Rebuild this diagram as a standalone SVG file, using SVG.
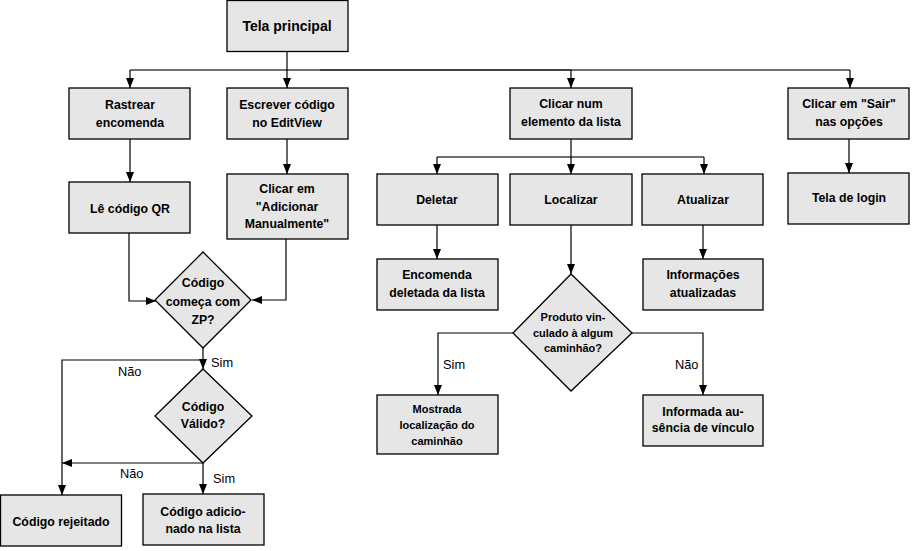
<svg xmlns="http://www.w3.org/2000/svg" width="913" height="551" viewBox="0 0 913 551">
<defs>
<marker id="ah" markerUnits="userSpaceOnUse" markerWidth="10" markerHeight="10" viewBox="0 0 10 10" refX="10" refY="5" orient="auto">
<path d="M0,1 L10,5 L0,9 Z" fill="#000"/>
</marker>
<style>
.box{fill:#e6e6e6;stroke:#000;stroke-width:1.3}
.t{font-family:"Liberation Sans",Arial,sans-serif;font-weight:bold;font-size:12.3px;fill:#000;text-anchor:middle;dominant-baseline:central}
.ts{font-size:11px}
.tt{font-size:14px}
.lbl{font-family:"Liberation Sans",Arial,sans-serif;font-size:12.8px;fill:#000;dominant-baseline:central}
.c{fill:none;stroke:#000;stroke-width:1.2}
.g{fill:none;stroke:#707070;stroke-width:2.2}
.d{fill:none;stroke:#404040;stroke-width:2.2}
.a{marker-end:url(#ah)}
</style>
</defs>
<rect width="913" height="551" fill="#fff"/>
<g id="connectors">
<path class="g" d="M130,70 H320"/>
<path class="d" d="M320,70 H571"/>
<path class="g" d="M571,70 H850"/>
<path class="g" d="M437,157 H704"/>
<path class="c a" d="M287,51 V88"/>
<path class="c a" d="M130,70 V88"/>
<path class="c a" d="M571,70 V88"/>
<path class="c a" d="M850,70 V88"/>
<path class="c a" d="M130,139 V182"/>
<path class="c a" d="M287,139 V174"/>
<path class="c a" d="M571,139 V174"/>
<path class="c a" d="M437,157 V174"/>
<path class="c a" d="M704,157 V174"/>
<path class="c a" d="M849,139 V173"/>
<path class="c a" d="M129,233 V301 H156"/>
<path class="c a" d="M286,239 V300 H252"/>
<path class="c a" d="M203,348 V369"/>
<path class="c a" d="M203,360 H62 V495"/>
<path class="c a" d="M203,463 V494"/>
<path class="c a" d="M203,463 H62"/>
<path class="c a" d="M437,225 V259"/>
<path class="c a" d="M703,225 V259"/>
<path class="c a" d="M571,225 V274"/>
<path class="c a" d="M513,333 H438 V395"/>
<path class="c a" d="M632,333 H703 V395"/>
</g>
<g id="tela-principal"><rect class="box" x="227" y="0.5" width="121" height="51"/><text class="t tt" x="287" y="26">Tela principal</text></g>
<g id="rastrear"><rect class="box" x="69" y="88" width="121" height="51"/><text class="t" x="130" y="105">Rastrear</text><text class="t" x="130" y="123">encomenda</text></g>
<g id="escrever"><rect class="box" x="227" y="88" width="121" height="51"/><text class="t" x="287" y="105">Escrever código</text><text class="t" x="287" y="123">no EditView</text></g>
<g id="clicar-num"><rect class="box" x="510" y="88" width="122" height="51"/><text class="t" x="571" y="104">Clicar num</text><text class="t" x="571" y="122">elemento da lista</text></g>
<g id="sair"><rect class="box" x="788" y="88" width="121" height="51"/><text class="t" x="849" y="104">Clicar em "Sair"</text><text class="t" x="849" y="122">nas opções</text></g>
<g id="le-qr"><rect class="box" x="69" y="182" width="121" height="51"/><text class="t" x="130" y="209">Lê código QR</text></g>
<g id="adicionar"><rect class="box" x="227" y="174" width="121" height="65"/><text class="t" x="287" y="189">Clicar em</text><text class="t" x="287" y="207">"Adicionar</text><text class="t" x="287" y="224">Manualmente"</text></g>
<g id="deletar"><rect class="box" x="377" y="174" width="121" height="51"/><text class="t" x="437" y="200">Deletar</text></g>
<g id="localizar"><rect class="box" x="510" y="174" width="122" height="51"/><text class="t" x="571" y="200">Localizar</text></g>
<g id="atualizar"><rect class="box" x="642" y="174" width="121" height="51"/><text class="t" x="703" y="200">Atualizar</text></g>
<g id="tela-login"><rect class="box" x="788" y="173" width="121" height="51"/><text class="t" x="849" y="198">Tela de login</text></g>
<g id="comeca-zp"><path class="box" d="M203,252 L251,300 L203,348 L155,300 Z"/><text class="t" x="203" y="283">Código</text><text class="t" x="203" y="302">começa com</text><text class="t" x="203" y="320">ZP?</text></g>
<g id="codigo-valido"><path class="box" d="M203,369 L252,416 L203,463 L155,416 Z"/><text class="t" x="203" y="407">Código</text><text class="t" x="203" y="424">Válido?</text></g>
<g id="rejeitado"><rect class="box" x="0.5" y="495" width="121" height="51"/><text class="t" x="61" y="522">Código rejeitado</text></g>
<g id="adicionado"><rect class="box" x="143" y="494" width="121" height="51"/><text class="t" x="203" y="512">Código adicio-</text><text class="t" x="203" y="529">nado na lista</text></g>
<g id="deletada"><rect class="box" x="377" y="259" width="121" height="51"/><text class="t" x="437" y="275">Encomenda</text><text class="t" x="437" y="293">deletada da lista</text></g>
<g id="atualizadas"><rect class="box" x="643" y="259" width="120" height="51"/><text class="t" x="703" y="275">Informações</text><text class="t" x="703" y="293">atualizadas</text></g>
<g id="vinculado"><path class="box" d="M571,274 L632,333 L571,391 L513,333 Z"/><text class="t ts" x="573" y="317">Produto vin-</text><text class="t ts" x="573" y="333">culado à algum</text><text class="t ts" x="573" y="348">caminhão?</text></g>
<g id="mostrada"><rect class="box" x="377" y="395" width="121" height="59"/><text class="t ts" x="437" y="409">Mostrada</text><text class="t ts" x="437" y="425">localização  do</text><text class="t ts" x="437" y="441">caminhão</text></g>
<g id="informada"><rect class="box" x="643" y="395" width="120" height="51"/><text class="t" x="703" y="412">Informada au-</text><text class="t" x="703" y="428">sência de vínculo</text></g>
<g id="labels">
<text class="lbl" x="211" y="362">Sim</text>
<text class="lbl" x="118" y="371">Não</text>
<text class="lbl" x="120" y="473">Não</text>
<text class="lbl" x="213" y="478">Sim</text>
<text class="lbl" x="443" y="364">Sim</text>
<text class="lbl" x="675" y="364">Não</text>
</g>
</svg>
